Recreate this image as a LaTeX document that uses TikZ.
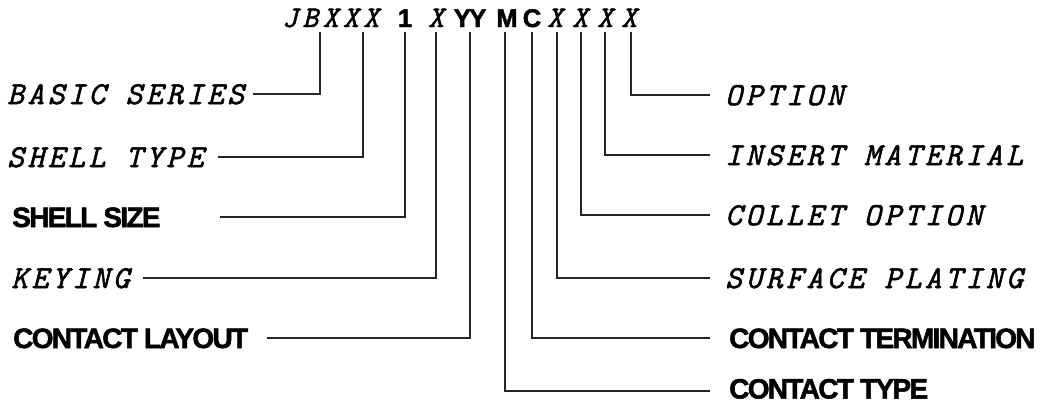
\documentclass[tikz,border=0pt]{standalone}
\usepackage{fontspec}
\newfontfamily\courlab{Latin Modern Mono}[LetterSpace=11, FakeBold=1.6]
\newfontfamily\courtop{Latin Modern Mono}[LetterSpace=15, FakeBold=1.6]
\newfontfamily\heavy{Liberation Sans Bold}[LetterSpace=-6, FakeBold=1.8]
\begin{document}
\begin{tikzpicture}[x=1pt,y=-1pt,
  ital/.style={font=\fontsize{32}{34}\selectfont\courlab\itshape, inner sep=0pt, anchor=base west},
  bold/.style={font=\fontsize{28}{30}\selectfont\heavy, inner sep=0pt, anchor=base west, text depth=0pt},
  topital/.style={font=\fontsize{30}{32}\selectfont\courtop\itshape, inner sep=0pt, anchor=base},
  topbold/.style={font=\fontsize{25.5}{28}\selectfont\heavy, inner sep=0pt, anchor=base},
  conn/.style={draw=black!85, line width=1.3pt}]
\useasboundingbox (0,0) rectangle (1045,402);
% code line
\node[topital, anchor=base west] (cJB) at (282,27) {JBXXX};
\node[topbold] (c1) at (405,27) {1};
\node[topital] (cX1) at (436,27) {X};
\node[topbold] (cYY) at (470,27) {YY};
\node[topbold] (cM) at (507,27) {M};
\node[topbold] (cC) at (532,27) {C};
\node[topital] (cX2) at (555,27) {X};
\node[topital] (cX3) at (580,27) {X};
\node[topital] (cX4) at (605,27) {X};
\node[topital] (cX5) at (629,27) {X};
% left labels
\node[ital] (lBS) at (7,104) {BASIC SERIES};
\node[ital] (lST) at (7,167) {SHELL TYPE};
\node[bold] (lSS) at (12,227) {SHELL SIZE};
\node[ital] (lKY) at (11,288) {KEYING};
\node[bold] (lCL) at (13,348) {CONTACT LAYOUT};
% right labels
\node[ital] (rOP) at (725,105) {OPTION};
\node[ital] (rIM) at (725,165) {INSERT MATERIAL};
\node[ital] (rCO) at (725,225) {COLLET OPTION};
\node[ital] (rSP) at (725,288) {SURFACE PLATING};
\node[bold] (rCT) at (729,348) {CONTACT TERMINATION};
\node[bold] (rTY) at (729,398.5) {CONTACT TYPE};
% connector tops
\coordinate (tBS) at (320,32);
\coordinate (tST) at (363,32);
\coordinate (tSS) at (405,32);
\coordinate (tKY) at (436,32);
\coordinate (tCL) at (470,32);
\coordinate (tTY) at (505,32);
\coordinate (tCT) at (532,32);
\coordinate (tSP) at (557,32);
\coordinate (tCO) at (581,32);
\coordinate (tIM) at (605,32);
\coordinate (tOP) at (631,32);
% connector ends
\coordinate (eBS) at (253,94);
\coordinate (eST) at (218,157);
\coordinate (eSS) at (220,217);
\coordinate (eKY) at (143,278);
\coordinate (eCL) at (267,338);
\coordinate (eOP) at (710,95);
\coordinate (eIM) at (710,155);
\coordinate (eCO) at (710,215);
\coordinate (eSP) at (710,278);
\coordinate (eCT) at (710,338);
\coordinate (eTY) at (710,391);
\foreach \n in {BS,ST,SS,KY,CL,OP,IM,CO,SP,CT,TY}{
  \draw[conn] (t\n) |- (e\n);
}
\end{tikzpicture}
\end{document}
